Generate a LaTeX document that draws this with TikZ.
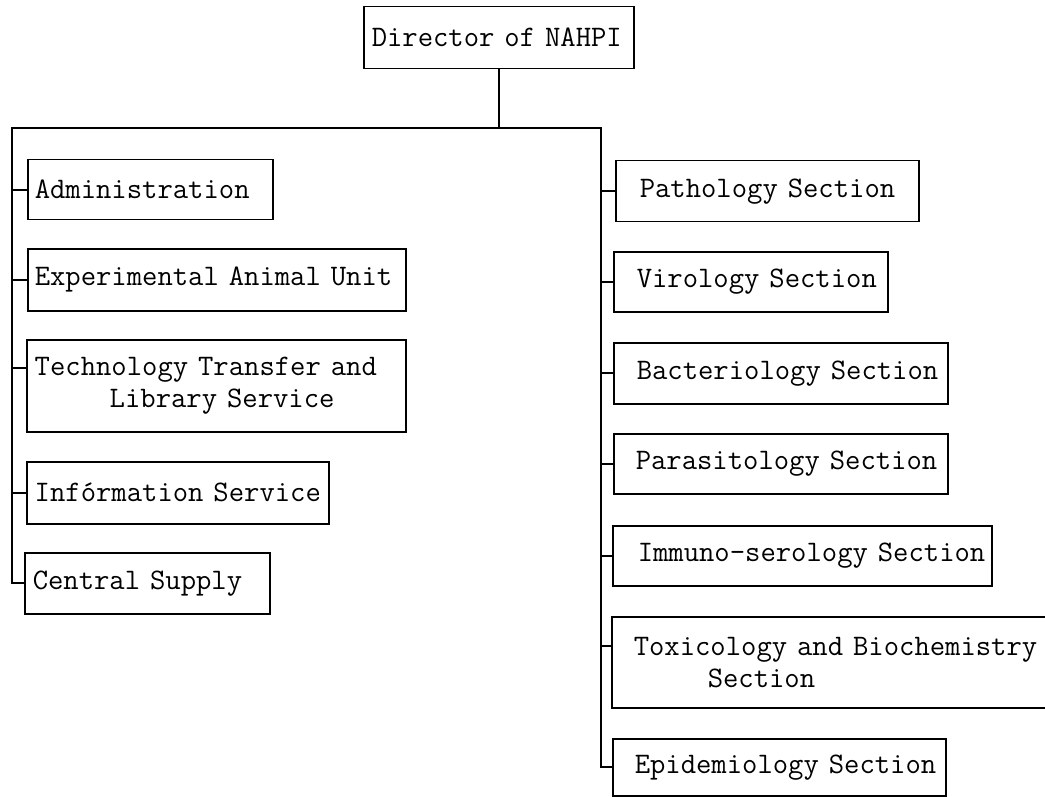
\documentclass[tikz,border=0pt]{standalone}
\usepackage{fontspec}
\begin{document}
\begin{tikzpicture}[x=1pt,y=-1pt,
  box/.style={draw, line width=1.5pt, inner xsep=0pt, inner ysep=0pt,
    align=left, anchor=north west,
    font=\ttfamily\fontsize{29.8}{32}\selectfont\addfontfeatures{FakeBold=0.6}},
  link/.style={line width=1.6pt}]
\useasboundingbox (0,0) rectangle (1045,797);
\clip (0,0) rectangle (1045,797);
% top
\node[box, text width=270pt, minimum height=62pt] (dir) at (363,6) {\hspace*{8pt}Director of NAHPI};
% left column
\node[box, text width=245pt, minimum height=60pt] (adm) at (27,159) {\hspace*{7pt}Administration};
\node[box, text width=378pt, minimum height=62pt] (exp) at (27,248) {\hspace*{7pt}Experimental Animal Unit};
\node[box, text width=379pt, minimum height=92pt] (tech) at (26,339) {\hspace*{8pt}Technology Transfer and\\\hspace*{83pt}Library Service};
\node[box, text width=302pt, minimum height=62pt] (info) at (26,461) {\hspace*{8pt}Infórmation Service};
\node[box, text width=245pt, minimum height=61pt] (cen) at (24,552) {\hspace*{8pt}Central Supply};
% right column
\node[box, text width=303pt, minimum height=61pt] (path) at (615,160) {\hspace*{24pt}Pathology Section};
\node[box, text width=274pt, minimum height=60pt] (vir) at (613,251) {\hspace*{23pt}Virology Section};
\node[box, text width=334pt, minimum height=61pt] (bac) at (613,342) {\hspace*{23pt}Bacteriology Section};
\node[box, text width=334pt, minimum height=60pt] (par) at (613,433) {\hspace*{22pt}Parasitology Section};
\node[box, text width=379pt, minimum height=60pt] (imm) at (612,525) {\hspace*{25pt}Immuno-serology Section};
\node[box, text width=450pt, minimum height=91pt] (tox) at (611,616) {\hspace*{22pt}Toxicology and Biochemistry\\\hspace*{96pt}Section};
\node[box, text width=333pt, minimum height=57pt] (epi) at (612,738) {\hspace*{22pt}Epidemiology Section};
% trunk
\coordinate (lc) at (12,128);
\coordinate (rc) at (601,128);
\draw[link] (dir.south) -- (dir.south |- lc);
\draw[link] (cen.west) -| (lc) -- (rc) |- (epi.west);
% left stubs
\draw[link] (adm.west) -- (adm.west -| lc);
\draw[link] (exp.west) -- (exp.west -| lc);
\draw[link] ([yshift=18pt]tech.west) -- ([yshift=18pt]tech.west -| lc);
\draw[link] (info.west) -- (info.west -| lc);
% right stubs
\draw[link] (path.west) -- (path.west -| rc);
\draw[link] (vir.west) -- (vir.west -| rc);
\draw[link] (bac.west) -- (bac.west -| rc);
\draw[link] (par.west) -- (par.west -| rc);
\draw[link] (imm.west) -- (imm.west -| rc);
\draw[link] ([yshift=16pt]tox.west) -- ([yshift=16pt]tox.west -| rc);
\end{tikzpicture}
\end{document}
